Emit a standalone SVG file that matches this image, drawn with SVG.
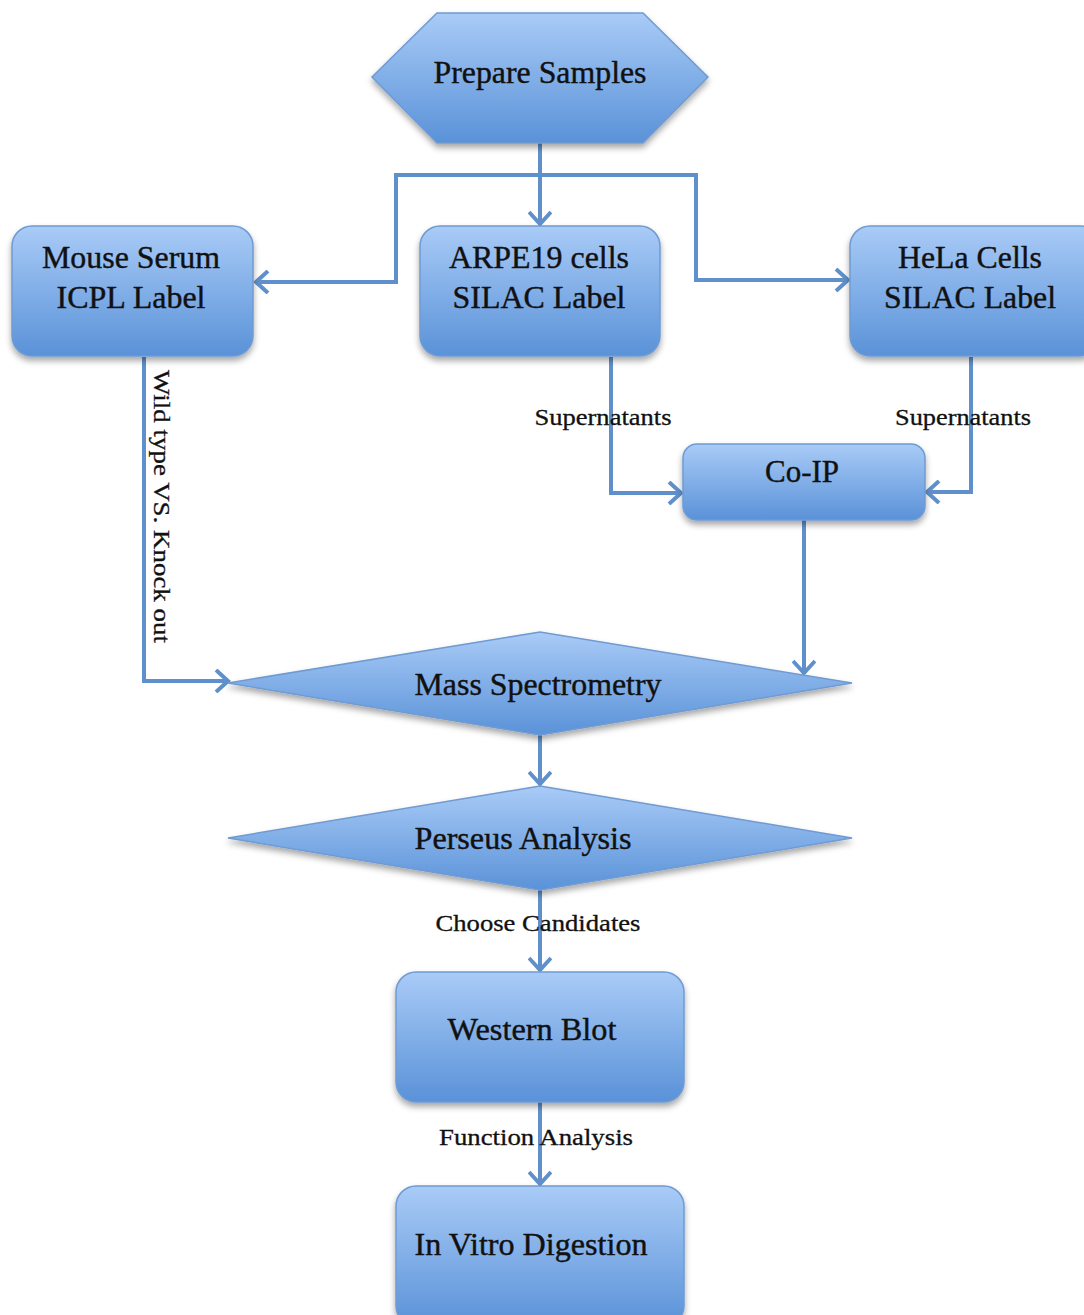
<svg xmlns="http://www.w3.org/2000/svg" width="1084" height="1315" viewBox="0 0 1084 1315">
<defs>
<linearGradient id="g" x1="0" y1="0" x2="0" y2="1">
<stop offset="0" stop-color="#a9cbf7"/>
<stop offset="1" stop-color="#5a92d8"/>
</linearGradient>
<filter id="sh" x="-10%" y="-10%" width="120%" height="130%">
<feDropShadow dx="0" dy="4" stdDeviation="3" flood-color="#000" flood-opacity="0.35"/>
</filter>
<marker id="arr" viewBox="0 0 24 24" markerWidth="24" markerHeight="24" refX="21" refY="12" orient="auto" markerUnits="userSpaceOnUse">
<path d="M9,1 L21,12 L9,23" fill="none" stroke="#6090cb" stroke-width="4"/>
</marker>
</defs>
<style>
.n{fill:url(#g);stroke:#6f9bd2;stroke-width:1.5;filter:url(#sh)}
.t{font-family:"Liberation Serif","Times New Roman",serif;font-size:31px;fill:#111;stroke:#111;stroke-width:0.4;text-anchor:middle}
.l{font-family:"Liberation Serif","Times New Roman",serif;font-size:23px;fill:#111;stroke:#111;stroke-width:0.3;text-anchor:middle}
.c{fill:none;stroke:#6090cb;stroke-width:4}
</style>
<rect width="1084" height="1315" fill="#fff"/>
<g id="connectors">
<path class="c" d="M540,143 V224" marker-end="url(#arr)"/>
<path class="c" d="M540,175 H396 V282 H256" marker-end="url(#arr)"/>
<path class="c" d="M540,175 H696 V280 H848" marker-end="url(#arr)"/>
<path class="c" d="M611,357 V493 H681" marker-end="url(#arr)"/>
<path class="c" d="M971,357 V492 H927" marker-end="url(#arr)"/>
<path class="c" d="M144,357 V681 H228" marker-end="url(#arr)"/>
<path class="c" d="M804,520 V673" marker-end="url(#arr)"/>
<path class="c" d="M540,735 V784" marker-end="url(#arr)"/>
<path class="c" d="M540,890 V970" marker-end="url(#arr)"/>
<path class="c" d="M540,1102 V1184" marker-end="url(#arr)"/>
<text class="l" x="603" y="425" textLength="137" lengthAdjust="spacingAndGlyphs">Supernatants</text>
<text class="l" x="963" y="425" textLength="136" lengthAdjust="spacingAndGlyphs">Supernatants</text>
<text class="l" transform="translate(154,370) rotate(90)" style="text-anchor:start" textLength="273" lengthAdjust="spacingAndGlyphs">Wild type VS. Knock out</text>
<text class="l" x="538" y="931" textLength="205" lengthAdjust="spacingAndGlyphs">Choose Candidates</text>
<text class="l" x="536" y="1145" textLength="194" lengthAdjust="spacingAndGlyphs">Function Analysis</text>
</g>
<g id="prepare">
<polygon class="n" points="437,13 643,13 708,77 643,143 437,143 372,77"/>
<text class="t" x="540" y="83" textLength="213" lengthAdjust="spacingAndGlyphs">Prepare Samples</text>
</g>
<g id="mouse">
<rect class="n" x="12" y="226" width="241" height="130" rx="20"/>
<text class="t" x="131" y="268" textLength="178" lengthAdjust="spacingAndGlyphs">Mouse Serum</text>
<text class="t" x="131" y="308" textLength="149" lengthAdjust="spacingAndGlyphs">ICPL Label</text>
</g>
<g id="arpe">
<rect class="n" x="420" y="226" width="240" height="130" rx="20"/>
<text class="t" x="539" y="268" textLength="180" lengthAdjust="spacingAndGlyphs">ARPE19 cells</text>
<text class="t" x="539" y="308" textLength="173" lengthAdjust="spacingAndGlyphs">SILAC Label</text>
</g>
<g id="hela">
<rect class="n" x="850" y="226" width="250" height="130" rx="20"/>
<text class="t" x="970" y="268" textLength="144" lengthAdjust="spacingAndGlyphs">HeLa Cells</text>
<text class="t" x="970" y="308" textLength="172" lengthAdjust="spacingAndGlyphs">SILAC Label</text>
</g>
<g id="coip">
<rect class="n" x="683" y="444" width="242" height="76" rx="14"/>
<text class="t" x="802" y="482" textLength="74" lengthAdjust="spacingAndGlyphs">Co-IP</text>
</g>
<g id="mass">
<polygon class="n" points="228,683 540,632 852,683 540,735"/>
<text class="t" x="538" y="695" textLength="247" lengthAdjust="spacingAndGlyphs">Mass Spectrometry</text>
</g>
<g id="perseus">
<polygon class="n" points="228,838 540,786 852,838 540,890"/>
<text class="t" x="523" y="849" textLength="217" lengthAdjust="spacingAndGlyphs">Perseus Analysis</text>
</g>
<g id="western">
<rect class="n" x="396" y="972" width="288" height="130" rx="20"/>
<text class="t" x="532" y="1040" textLength="169" lengthAdjust="spacingAndGlyphs">Western Blot</text>
</g>
<g id="invitro">
<rect class="n" x="396" y="1186" width="288" height="140" rx="20"/>
<text class="t" x="531" y="1255" textLength="233" lengthAdjust="spacingAndGlyphs">In Vitro Digestion</text>
</g>
</svg>
